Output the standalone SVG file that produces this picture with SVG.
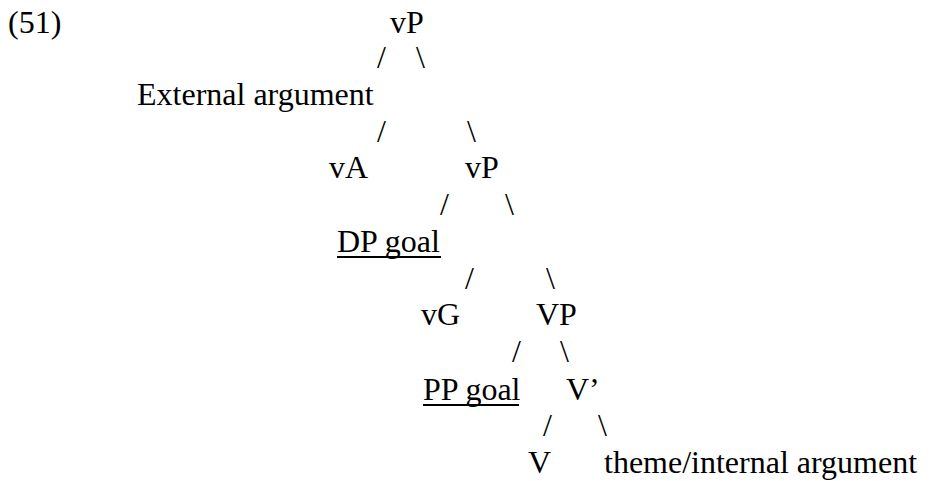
<svg xmlns="http://www.w3.org/2000/svg" width="932" height="481" viewBox="0 0 932 481">
<style>
text{font-family:"Liberation Serif","Times New Roman",serif;font-size:32px;fill:#000}
.u{stroke:#000;stroke-width:2}
</style>
<rect width="932" height="481" fill="#fff"/>
<g id="label"><text x="8" y="33">(51)</text></g>
<g id="connectors">
<text x="377" y="68">/</text><text x="416" y="68">\</text>
<text x="377" y="142">/</text><text x="467" y="142">\</text>
<text x="440" y="215">/</text><text x="505" y="215">\</text>
<text x="465" y="289">/</text><text x="546" y="289">\</text>
<text x="512" y="362">/</text><text x="560" y="362">\</text>
<text x="543" y="436">/</text><text x="598" y="436">\</text>
</g>
<g id="vP1"><text x="390" y="33">vP</text></g>
<g id="ext"><text x="137" y="105">External argument</text></g>
<g id="vA"><text x="329" y="178">vA</text></g>
<g id="vP2"><text x="465" y="178">vP</text></g>
<g id="DPgoal"><text x="337" y="252">DP goal</text><line class="u" x1="337" y1="257" x2="441" y2="257"/></g>
<g id="vG"><text x="421" y="325">vG</text></g>
<g id="VP"><text x="536" y="325">VP</text></g>
<g id="PPgoal"><text x="423" y="400">PP goal</text><line class="u" x1="423" y1="405" x2="519" y2="405"/></g>
<g id="Vbar"><text x="566" y="400">V’</text></g>
<g id="V"><text x="528" y="473">V</text></g>
<g id="theme"><text x="604" y="473">theme/internal argument</text></g>
</svg>
